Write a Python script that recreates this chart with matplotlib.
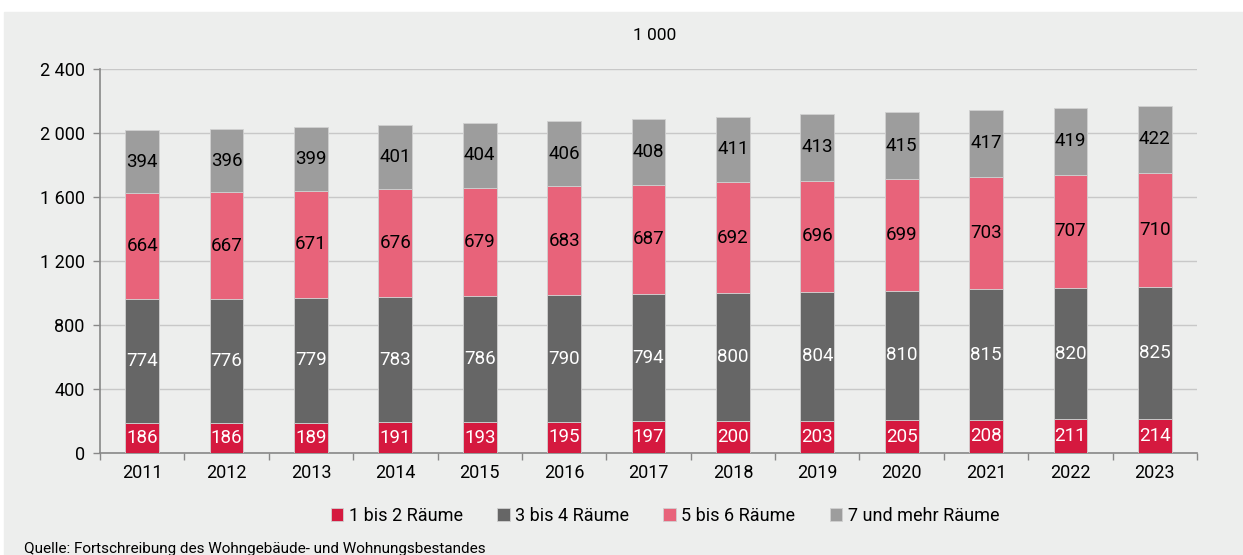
import matplotlib.pyplot as plt
from matplotlib.patches import Rectangle
import numpy as np

plt.rcParams['font.family'] = ['Roboto', 'DejaVu Sans']

years = ['2011', '2012', '2013', '2014', '2015', '2016', '2017',
         '2018', '2019', '2020', '2021', '2022', '2023']
r1_2 = [186, 186, 189, 191, 193, 195, 197, 200, 203, 205, 208, 211, 214]
r3_4 = [774, 776, 779, 783, 786, 790, 794, 800, 804, 810, 815, 820, 825]
r5_6 = [664, 667, 671, 676, 679, 683, 687, 692, 696, 699, 703, 707, 710]
r7_plus = [394, 396, 399, 401, 404, 406, 408, 411, 413, 415, 417, 419, 422]

series = [
    ('1 bis 2 Räume', r1_2, '#d5193f', 'white'),
    ('3 bis 4 Räume', r3_4, '#666666', 'white'),
    ('5 bis 6 Räume', r5_6, '#e8637a', 'black'),
    ('7 und mehr Räume', r7_plus, '#9d9d9d', 'black'),
]

bg = '#edeeed'
fig = plt.figure(figsize=(12.43, 5.55), dpi=100)
fig.patch.set_facecolor('white')
# grey panel behind everything
fig.patches.append(Rectangle((4 / 1243, 0), 1, 1 - 12 / 555,
                             transform=fig.transFigure, color=bg, zorder=-10))

ax = fig.add_axes([100 / 1243, 1 - 453 / 555, 1097 / 1243, 384 / 555])
ax.set_facecolor(bg)

x = np.arange(len(years))
bottom = np.zeros(len(years))
for name, vals, color, tcolor in series:
    vals = np.array(vals)
    ax.bar(x, vals, width=0.4, bottom=bottom, color=color,
           edgecolor='#d0d0d0', linewidth=0.6, label=name, zorder=3)
    for xi, b, v in zip(x, bottom, vals):
        ax.text(xi, b + v / 2, str(v), ha='center', va='center',
                fontsize=13.5, color=tcolor, zorder=4)
    bottom += vals

ax.set_xlim(-0.5, len(years) - 0.5)
ax.set_ylim(0, 2400)
yt = [0, 400, 800, 1200, 1600, 2000, 2400]
ax.set_yticks(yt)
ax.set_yticklabels(['{:,}'.format(v).replace(',', ' ') for v in yt], fontsize=13)
ax.yaxis.grid(True, color='#c8c8c8', linewidth=1, zorder=0)
ax.set_axisbelow(True)

ax.set_xticks(x)
ax.set_xticklabels(years, fontsize=13)
ax.set_xticks(np.arange(-0.5, len(years)), minor=True)
ax.tick_params(axis='x', which='major', length=0, pad=8)
ax.tick_params(axis='x', which='minor', length=5, color='#888888', width=1)
ax.tick_params(axis='y', length=5, color='#888888', width=1, pad=6)

for s in ['top', 'right']:
    ax.spines[s].set_visible(False)
for s in ['left', 'bottom']:
    ax.spines[s].set_color('#888888')
    ax.spines[s].set_linewidth(1.2)

fig.text(655 / 1243, 1 - 35 / 555, '1 000', ha='center', va='center', fontsize=12.5)

fig.legend(loc='center', bbox_to_anchor=(665 / 1243, 1 - 516 / 555), ncol=4,
           frameon=False, fontsize=13, handlelength=0.7, handleheight=0.7,
           handletextpad=0.3, columnspacing=1.9)

fig.text(24 / 1243, 1 - 549 / 555, 'Quelle: Fortschreibung des Wohngebäude- und Wohnungsbestandes',
         ha='left', va='center', fontsize=11)

fig.savefig('out.png', dpi=100, facecolor=fig.get_facecolor())
